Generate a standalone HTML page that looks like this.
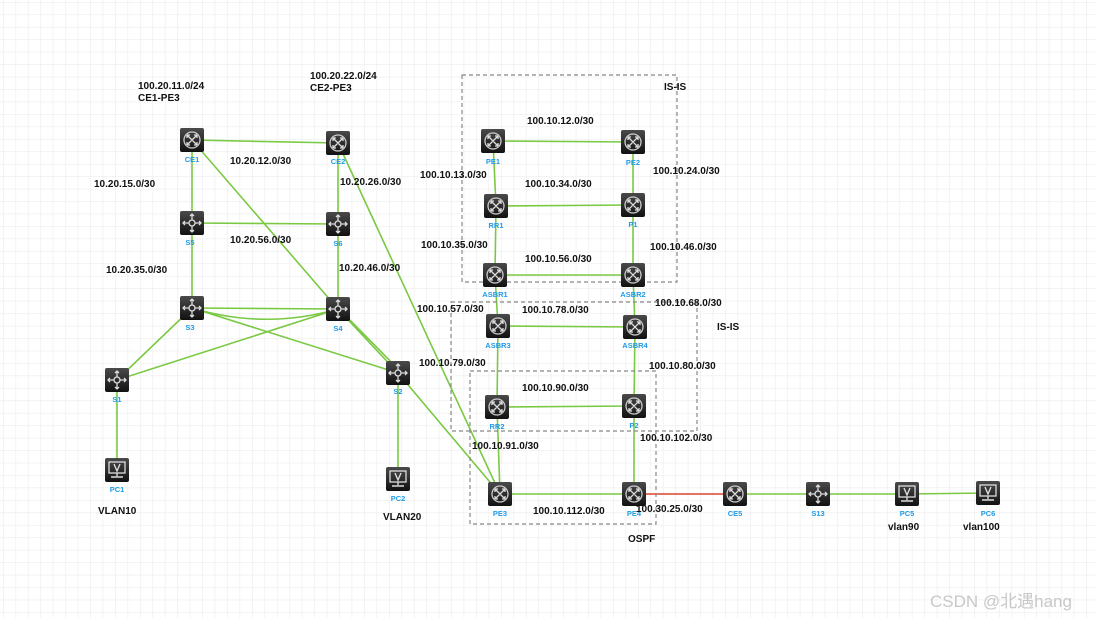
<!DOCTYPE html>
<html><head><meta charset="utf-8"><style>
html,body{margin:0;padding:0;background:#fff}
svg{display:block}
text{font-family:"Liberation Sans",Arial,sans-serif}
.t{font-size:10px;font-weight:bold;fill:#111}
.n{font-size:7.5px;fill:#1e9be8;text-anchor:middle;font-weight:bold}
</style></head><body>
<svg width="1096" height="618" viewBox="0 0 1096 618" xmlns="http://www.w3.org/2000/svg">
<defs>
<pattern id="g" width="12.45" height="12.45" patternUnits="userSpaceOnUse" x="3" y="2">
<path d="M0 0H12.45M0 0V12.45" stroke="#ececec" stroke-width="1.2" fill="none"/>
</pattern>
<linearGradient id="bg" x1="0" y1="0" x2="0" y2="1"><stop offset="0" stop-color="#4a4a4a"/><stop offset="1" stop-color="#111"/></linearGradient>
<g id="r"><rect x="-12" y="-12" width="24" height="24" rx="2" fill="url(#bg)"/>
<circle r="8" fill="none" stroke="#ccc" stroke-width="1.3"/>
<path d="M-5-5L5 5M5-5L-5 5M-5-5h3M-5-5v3M5 5h-3M5 5v-3M5-5h-3M5-5v3M-5 5h3M-5 5v-3" stroke="#ddd" stroke-width="1.3" fill="none"/></g>
<g id="s"><rect x="-12" y="-12" width="24" height="24" rx="2" fill="url(#bg)"/>
<circle r="3" fill="none" stroke="#ddd" stroke-width="1.3"/>
<path d="M0-3V-9M0 3V9M-3 0H-9M3 0H9M-2-7L0-9L2-7M-2 7L0 9L2 7M-7-2L-9 0L-7 2M7-2L9 0L7 2" stroke="#ddd" stroke-width="1.3" fill="none"/></g>
<g id="p"><rect x="-12" y="-12" width="24" height="24" rx="2" fill="url(#bg)"/>
<rect x="-8" y="-8" width="16" height="11" fill="none" stroke="#ddd" stroke-width="1.3"/>
<path d="M-3-6L0 1L3-6M0 3V6M-6 7H6" stroke="#ddd" stroke-width="1.4" fill="none"/></g>
</defs>
<rect width="1096" height="618" fill="url(#g)"/>
<g stroke="#7ac943" stroke-width="1.6" fill="none">
<path d="M192 140L338 143M192 140V223M192 140L338 309M338 143V224M338 143L500 494M192 223L338 224M192 223V308M338 224V309M192 308L338 309M192 308Q265 330 338 309M192 308L398 373M338 309L117 380M192 308L117 380M338 309L398 373M341 311L400 371M117 380V470M398 373V479M398 373L500 494"/>
<path d="M493 141L633 142M493 141L496 206M633 142V205M496 206L633 205M496 206L495 275M633 205V275M495 275L633 275M495 275L498 326M633 275L635 327M498 326L635 327M498 326L497 407M635 327L634 406M497 407L634 406M497 407L500 494M634 406V494M500 494H634M735 494H818M818 494L907 494M907 494L988 493"/>
</g>
<path d="M634 494H735" stroke="#e0432c" stroke-width="1.6"/>
<g stroke="#888" stroke-width="1.2" stroke-dasharray="4,3" fill="none">
<rect x="462" y="75" width="215" height="207"/>
<rect x="451" y="302" width="246" height="129"/>
<rect x="470" y="371" width="186" height="153"/>
</g>
<use href="#r" x="192" y="140"/><use href="#r" x="338" y="143"/>
<use href="#s" x="192" y="223"/><use href="#s" x="338" y="224"/>
<use href="#s" x="192" y="308"/><use href="#s" x="338" y="309"/>
<use href="#s" x="117" y="380"/><use href="#s" x="398" y="373"/>
<use href="#p" x="117" y="470"/><use href="#p" x="398" y="479"/>
<use href="#r" x="493" y="141"/><use href="#r" x="633" y="142"/>
<use href="#r" x="496" y="206"/><use href="#r" x="633" y="205"/>
<use href="#r" x="495" y="275"/><use href="#r" x="633" y="275"/>
<use href="#r" x="498" y="326"/><use href="#r" x="635" y="327"/>
<use href="#r" x="497" y="407"/><use href="#r" x="634" y="406"/>
<use href="#r" x="500" y="494"/><use href="#r" x="634" y="494"/>
<use href="#r" x="735" y="494"/><use href="#s" x="818" y="494"/>
<use href="#p" x="907" y="494"/><use href="#p" x="988" y="493"/>
<g class="n">
<text x="192" y="162">CE1</text><text x="338" y="164">CE2</text>
<text x="190" y="245">S5</text><text x="338" y="246">S6</text>
<text x="190" y="330">S3</text><text x="338" y="331">S4</text>
<text x="117" y="402">S1</text><text x="398" y="394">S2</text>
<text x="117" y="492">PC1</text><text x="398" y="501">PC2</text>
<text x="493" y="164">PE1</text><text x="633" y="165">PE2</text>
<text x="496" y="228">RR1</text><text x="633" y="227">P1</text>
<text x="495" y="297">ASBR1</text><text x="633" y="297">ASBR2</text>
<text x="498" y="348">ASBR3</text><text x="635" y="348">ASBR4</text>
<text x="497" y="429">RR2</text><text x="634" y="428">P2</text>
<text x="500" y="516">PE3</text><text x="634" y="516">PE4</text>
<text x="735" y="516">CE5</text><text x="818" y="516">S13</text>
<text x="907" y="516">PC5</text><text x="988" y="516">PC6</text>
</g>
<g class="t">
<text x="138" y="89">100.20.11.0/24</text><text x="138" y="101">CE1-PE3</text>
<text x="310" y="79">100.20.22.0/24</text><text x="310" y="91">CE2-PE3</text>
<text x="230" y="164">10.20.12.0/30</text><text x="94" y="187">10.20.15.0/30</text>
<text x="340" y="185">10.20.26.0/30</text><text x="230" y="243">10.20.56.0/30</text>
<text x="106" y="273">10.20.35.0/30</text><text x="339" y="271">10.20.46.0/30</text>
<text x="98" y="514">VLAN10</text><text x="383" y="520">VLAN20</text>
<text x="664" y="90">IS-IS</text><text x="527" y="124">100.10.12.0/30</text>
<text x="420" y="178">100.10.13.0/30</text><text x="525" y="187">100.10.34.0/30</text>
<text x="653" y="174">100.10.24.0/30</text><text x="421" y="248">100.10.35.0/30</text>
<text x="525" y="262">100.10.56.0/30</text><text x="650" y="250">100.10.46.0/30</text>
<text x="417" y="312">100.10.57.0/30</text><text x="522" y="313">100.10.78.0/30</text>
<text x="655" y="306">100.10.68.0/30</text><text x="717" y="330">IS-IS</text>
<text x="419" y="366">100.10.79.0/30</text><text x="649" y="369">100.10.80.0/30</text>
<text x="522" y="391">100.10.90.0/30</text><text x="472" y="449">100.10.91.0/30</text>
<text x="640" y="441">100.10.102.0/30</text><text x="533" y="514">100.10.112.0/30</text>
<text x="636" y="512">100.30.25.0/30</text><text x="628" y="542">OSPF</text>
<text x="888" y="530">vlan90</text><text x="963" y="530">vlan100</text>
</g>
<text x="930" y="607" style="font-size:17px;fill:#c8c8c8;font-family:'Liberation Sans','Noto Sans CJK SC',sans-serif">CSDN @北遇hang</text>
</svg>
</body></html>
